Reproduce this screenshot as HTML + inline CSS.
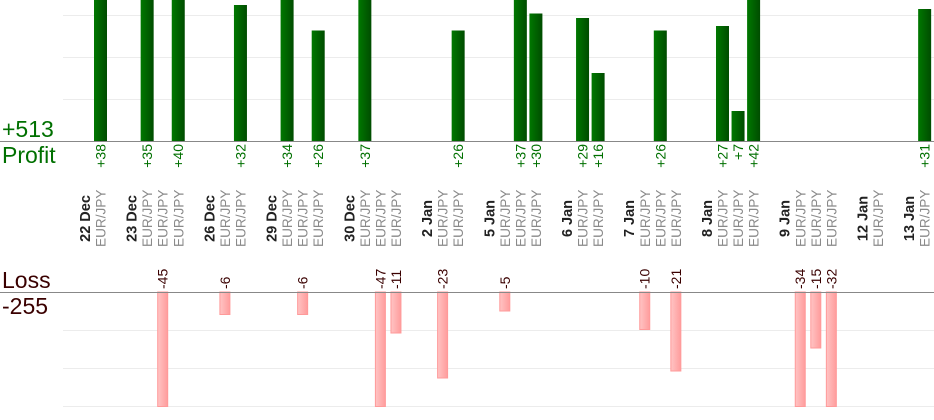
<!DOCTYPE html>
<html><head><meta charset="utf-8"><style>
html,body{margin:0;padding:0;background:#fff;}
svg{display:block;font-family:"Liberation Sans",sans-serif;}
.p{fill:url(#g);}
.l{fill:url(#r);stroke:#ff9a9a;stroke-width:1;}
.pv{font-size:14px;fill:#007000;text-anchor:end;}
.lv{font-size:14px;fill:#3a0000;}
.d{font-size:14.5px;font-weight:bold;fill:#222;text-anchor:middle;}
.e{font-size:13.6px;fill:#8a8a8a;}
</style></head><body>
<svg width="934" height="420" viewBox="0 0 934 420">
<defs>
<linearGradient id="g" x1="0" x2="1" y1="0" y2="0"><stop offset="0" stop-color="#007800"/><stop offset="1" stop-color="#004c00"/></linearGradient>
<linearGradient id="r" x1="0" x2="1" y1="0" y2="0"><stop offset="0" stop-color="#ffc4c4"/><stop offset="1" stop-color="#ff9c9c"/></linearGradient>
</defs>
<g stroke="#ececec" stroke-width="1">
<line x1="63" x2="934" y1="15.5" y2="15.5"/><line x1="63" x2="934" y1="57.5" y2="57.5"/><line x1="63" x2="934" y1="99.5" y2="99.5"/>
<line x1="63" x2="934" y1="330.5" y2="330.5"/><line x1="63" x2="934" y1="368.5" y2="368.5"/><line x1="63" x2="934" y1="406.5" y2="406.5"/>
</g>
<rect class="p" x="94" y="0" width="13" height="141"/>
<rect class="p" x="140.65" y="0" width="13" height="141"/>
<rect class="p" x="171.75" y="0" width="13" height="141"/>
<rect class="p" x="233.95" y="5" width="13" height="136"/>
<rect class="p" x="280.6" y="0" width="13" height="141"/>
<rect class="p" x="311.7" y="30.5" width="13" height="110.5"/>
<rect class="p" x="358.35" y="0" width="13" height="141"/>
<rect class="p" x="451.65" y="30.5" width="13" height="110.5"/>
<rect class="p" x="513.85" y="0" width="13" height="141"/>
<rect class="p" x="529.4" y="13.5" width="13" height="127.5"/>
<rect class="p" x="576.05" y="18" width="13" height="123"/>
<rect class="p" x="591.6" y="73" width="13" height="68"/>
<rect class="p" x="653.8" y="30.5" width="13" height="110.5"/>
<rect class="p" x="716" y="26" width="13" height="115"/>
<rect class="p" x="731.55" y="111" width="13" height="30"/>
<rect class="p" x="747.1" y="0" width="13" height="141"/>
<rect class="p" x="918.15" y="9" width="13" height="132"/>
<rect class="l" x="157.7" y="292" width="10" height="114.5"/>
<rect class="l" x="219.9" y="292" width="10" height="22.5"/>
<rect class="l" x="297.65" y="292" width="10" height="22.5"/>
<rect class="l" x="375.4" y="292" width="10" height="114.5"/>
<rect class="l" x="390.95" y="292" width="10" height="41"/>
<rect class="l" x="437.6" y="292" width="10" height="86"/>
<rect class="l" x="499.8" y="292" width="10" height="19"/>
<rect class="l" x="639.75" y="292" width="10" height="37.5"/>
<rect class="l" x="670.85" y="292" width="10" height="79"/>
<rect class="l" x="795.25" y="292" width="10" height="114.5"/>
<rect class="l" x="810.8" y="292" width="10" height="56"/>
<rect class="l" x="826.35" y="292" width="10" height="114.5"/>
<line x1="0" x2="934" y1="141.5" y2="141.5" stroke="#888" stroke-width="1"/>
<line x1="0" x2="934" y1="292.5" y2="292.5" stroke="#888" stroke-width="1"/>
<text x="2" y="137" font-size="23" fill="#007000">+513</text>
<text x="2" y="163" font-size="23" fill="#007000">Profit</text>
<text x="2" y="288" font-size="23" fill="#3a0000">Loss</text>
<text x="2" y="314" font-size="23" fill="#3a0000">-255</text>
<text class="pv" transform="translate(105.5,144) rotate(-90)">+38</text>
<text class="pv" transform="translate(152.1,144) rotate(-90)">+35</text>
<text class="pv" transform="translate(183.2,144) rotate(-90)">+40</text>
<text class="pv" transform="translate(245.4,144) rotate(-90)">+32</text>
<text class="pv" transform="translate(292.1,144) rotate(-90)">+34</text>
<text class="pv" transform="translate(323.2,144) rotate(-90)">+26</text>
<text class="pv" transform="translate(369.8,144) rotate(-90)">+37</text>
<text class="pv" transform="translate(463.1,144) rotate(-90)">+26</text>
<text class="pv" transform="translate(525.3,144) rotate(-90)">+37</text>
<text class="pv" transform="translate(540.9,144) rotate(-90)">+30</text>
<text class="pv" transform="translate(587.5,144) rotate(-90)">+29</text>
<text class="pv" transform="translate(603.1,144) rotate(-90)">+16</text>
<text class="pv" transform="translate(665.3,144) rotate(-90)">+26</text>
<text class="pv" transform="translate(727.5,144) rotate(-90)">+27</text>
<text class="pv" transform="translate(743,144) rotate(-90)">+7</text>
<text class="pv" transform="translate(758.6,144) rotate(-90)">+42</text>
<text class="pv" transform="translate(929.6,144) rotate(-90)">+31</text>
<text class="lv" transform="translate(167.7,289) rotate(-90)">-45</text>
<text class="lv" transform="translate(229.9,289) rotate(-90)">-6</text>
<text class="lv" transform="translate(307.6,289) rotate(-90)">-6</text>
<text class="lv" transform="translate(385.4,289) rotate(-90)">-47</text>
<text class="lv" transform="translate(400.9,289) rotate(-90)">-11</text>
<text class="lv" transform="translate(447.6,289) rotate(-90)">-23</text>
<text class="lv" transform="translate(509.8,289) rotate(-90)">-5</text>
<text class="lv" transform="translate(649.7,289) rotate(-90)">-10</text>
<text class="lv" transform="translate(680.8,289) rotate(-90)">-21</text>
<text class="lv" transform="translate(805.2,289) rotate(-90)">-34</text>
<text class="lv" transform="translate(820.8,289) rotate(-90)">-15</text>
<text class="lv" transform="translate(836.3,289) rotate(-90)">-32</text>
<text class="d" transform="translate(90,218.5) rotate(-90)">22 Dec</text>
<text class="d" transform="translate(136.6,218.5) rotate(-90)">23 Dec</text>
<text class="d" transform="translate(214.4,218.5) rotate(-90)">26 Dec</text>
<text class="d" transform="translate(276.6,218.5) rotate(-90)">29 Dec</text>
<text class="d" transform="translate(354.3,218.5) rotate(-90)">30 Dec</text>
<text class="d" transform="translate(432.1,218.5) rotate(-90)">2 Jan</text>
<text class="d" transform="translate(494.3,218.5) rotate(-90)">5 Jan</text>
<text class="d" transform="translate(572,218.5) rotate(-90)">6 Jan</text>
<text class="d" transform="translate(634.2,218.5) rotate(-90)">7 Jan</text>
<text class="d" transform="translate(712,218.5) rotate(-90)">8 Jan</text>
<text class="d" transform="translate(789.7,218.5) rotate(-90)">9 Jan</text>
<text class="d" transform="translate(867.5,218.5) rotate(-90)">12 Jan</text>
<text class="d" transform="translate(914.1,218.5) rotate(-90)">13 Jan</text>
<text class="e" transform="translate(105.5,247) rotate(-90)">EUR/JPY</text>
<text class="e" transform="translate(152.2,247) rotate(-90)">EUR/JPY</text>
<text class="e" transform="translate(167.7,247) rotate(-90)">EUR/JPY</text>
<text class="e" transform="translate(183.3,247) rotate(-90)">EUR/JPY</text>
<text class="e" transform="translate(229.9,247) rotate(-90)">EUR/JPY</text>
<text class="e" transform="translate(245.5,247) rotate(-90)">EUR/JPY</text>
<text class="e" transform="translate(292.1,247) rotate(-90)">EUR/JPY</text>
<text class="e" transform="translate(307.7,247) rotate(-90)">EUR/JPY</text>
<text class="e" transform="translate(323.2,247) rotate(-90)">EUR/JPY</text>
<text class="e" transform="translate(369.9,247) rotate(-90)">EUR/JPY</text>
<text class="e" transform="translate(385.4,247) rotate(-90)">EUR/JPY</text>
<text class="e" transform="translate(401,247) rotate(-90)">EUR/JPY</text>
<text class="e" transform="translate(447.6,247) rotate(-90)">EUR/JPY</text>
<text class="e" transform="translate(463.2,247) rotate(-90)">EUR/JPY</text>
<text class="e" transform="translate(509.8,247) rotate(-90)">EUR/JPY</text>
<text class="e" transform="translate(525.4,247) rotate(-90)">EUR/JPY</text>
<text class="e" transform="translate(540.9,247) rotate(-90)">EUR/JPY</text>
<text class="e" transform="translate(587.6,247) rotate(-90)">EUR/JPY</text>
<text class="e" transform="translate(603.1,247) rotate(-90)">EUR/JPY</text>
<text class="e" transform="translate(649.8,247) rotate(-90)">EUR/JPY</text>
<text class="e" transform="translate(665.3,247) rotate(-90)">EUR/JPY</text>
<text class="e" transform="translate(680.9,247) rotate(-90)">EUR/JPY</text>
<text class="e" transform="translate(727.5,247) rotate(-90)">EUR/JPY</text>
<text class="e" transform="translate(743.1,247) rotate(-90)">EUR/JPY</text>
<text class="e" transform="translate(758.6,247) rotate(-90)">EUR/JPY</text>
<text class="e" transform="translate(805.3,247) rotate(-90)">EUR/JPY</text>
<text class="e" transform="translate(820.8,247) rotate(-90)">EUR/JPY</text>
<text class="e" transform="translate(836.4,247) rotate(-90)">EUR/JPY</text>
<text class="e" transform="translate(883,247) rotate(-90)">EUR/JPY</text>
<text class="e" transform="translate(929.7,247) rotate(-90)">EUR/JPY</text>
</svg>
</body></html>
